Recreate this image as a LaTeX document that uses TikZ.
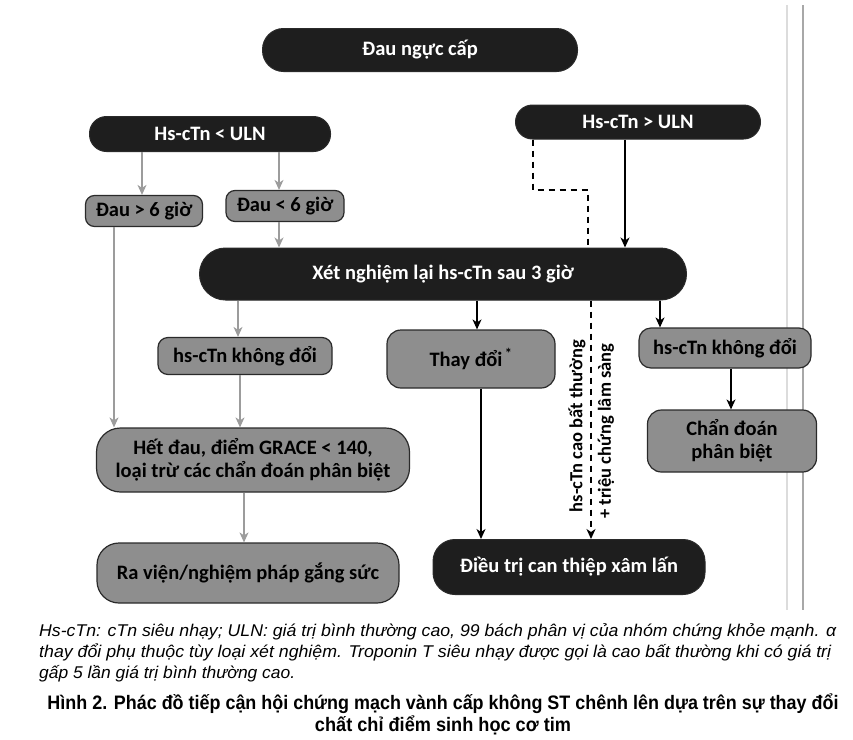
\documentclass[tikz,border=0pt]{standalone}
\usepackage{fontspec}
\usepackage{graphicx}
\setmainfont{Carlito}
\newfontfamily\capfont{Liberation Sans}
\usetikzlibrary{arrows.meta}
\definecolor{darkbox}{HTML}{1E1E1E}
\definecolor{graybox}{HTML}{8E8E8E}
\definecolor{grayline}{HTML}{9C9C9C}
\definecolor{edge}{HTML}{2A2A2A}
\definecolor{pagelineA}{HTML}{DCDCDC}
\definecolor{pagelineB}{HTML}{A8A8A8}
\tikzset{
  dbox/.style={draw=edge, line width=1pt, fill=darkbox, text=white, font=\fontsize{20.5}{24}\selectfont\bfseries, inner sep=0pt, align=center},
  gbox/.style={draw=edge, line width=1.2pt, fill=graybox, text=black, font=\fontsize{20.5}{23.5}\selectfont\bfseries, inner sep=0pt, align=center},
  garrow/.style={draw=grayline, line width=1.3pt, -{Stealth[length=10pt,width=9pt,inset=3pt]}},
  barrow/.style={draw=black, line width=1.3pt, -{Stealth[length=10pt,width=9pt,inset=3pt]}},
  darrow/.style={draw=black, line width=1.3pt, dash pattern=on 6pt off 5pt},
  vlabel/.style={font=\fontsize{18.5}{22}\selectfont\bfseries, rotate=90, inner sep=0pt},
  captext/.style={font=\capfont\fontsize{17}{20}\selectfont\itshape, anchor=base west, inner sep=0pt},
  capbold/.style={font=\capfont\fontsize{19.5}{22}\selectfont\bfseries, anchor=base, inner sep=0pt}
}
\begin{document}
\begin{tikzpicture}[x=1pt,y=-1pt]
\useasboundingbox (0,0) rectangle (853,739);
\fill[white] (0,0) rectangle (853,739);
% page edge lines
\draw[pagelineA, line width=1.5pt] (787,5) -- (787,610);
\draw[pagelineB, line width=2pt] (803,5) -- (803,610);

% nodes
\node[dbox, minimum width=315pt, minimum height=43pt, rounded corners=21pt] (dau) at (420,50) {Đau ngực cấp};
\node[dbox, minimum width=241pt, minimum height=35pt, rounded corners=17pt] (lo) at (210,134) {Hs-cTn < ULN};
\node[dbox, minimum width=245pt, minimum height=34pt, rounded corners=17pt] (hi) at (638,122) {Hs-cTn > ULN};
\node[gbox, minimum width=117pt, minimum height=31pt, rounded corners=9pt] (da) at (144,211) {Đau > 6 giờ};
\node[gbox, minimum width=118pt, minimum height=31pt, rounded corners=9pt] (db) at (285,206) {Đau < 6 giờ};
\node[dbox, minimum width=487pt, minimum height=52pt, rounded corners=26pt] (xn) at (443,274) {Xét nghiệm lại hs-cTn sau 3 giờ};
\node[gbox, minimum width=174pt, minimum height=37pt, rounded corners=10pt] (kl) at (245,356) {hs-cTn không đổi};
\node[gbox, minimum width=168pt, minimum height=58pt, rounded corners=14pt] (td) at (471,359) {Thay đổi\textsuperscript{\,*}};
\node[gbox, minimum width=172pt, minimum height=40pt, rounded corners=12pt] (kr) at (725,348) {hs-cTn không đổi};
\node[gbox, minimum width=169pt, minimum height=62pt, rounded corners=14pt] (cd) at (732,441) {Chẩn đoán\\phân biệt};
\node[gbox, minimum width=313pt, minimum height=64pt, rounded corners=24pt] (hd) at (253,460) {Hết đau, điểm GRACE < 140,\\loại trừ các chẩn đoán phân biệt};
\node[gbox, minimum width=302pt, minimum height=60pt, rounded corners=22pt] (rv) at (248,573) {Ra viện/nghiệm pháp gắng sức};
\node[dbox, minimum width=272pt, minimum height=55pt, rounded corners=22pt] (dt) at (569,567) {Điều trị can thiệp xâm lấn};

% gray arrows
\draw[garrow] (lo.south -| 142,0) -- (da.north -| 142,0);
\draw[garrow] (lo.south -| 279,0) -- (db.north -| 279,0);
\draw[garrow] (db.south -| 279,0) -- (xn.north -| 279,0);
\draw[garrow] (da.south -| 114,0) -- (hd.north -| 114,0);
\draw[garrow] (xn.south -| 238,0) -- (kl.north -| 238,0);
\draw[garrow] (kl.south -| 240,0) -- (hd.north -| 240,0);
\draw[garrow] (hd.south -| 244,0) -- (rv.north -| 244,0);

% black arrows
\draw[barrow] (hi.south -| 625,0) -- (xn.north -| 625,0);
\draw[barrow] (xn.south -| 477,0) -- (td.north -| 477,0);
\draw[barrow] (td.south -| 481,0) -- (dt.north -| 481,0);
\draw[barrow] (xn.south -| 660,0) -- (kr.north -| 660,0);
\draw[barrow] (kr.south -| 731,0) -- (cd.north -| 731,0);

% dashed path
\coordinate (dk) at (588,190);
\draw[darrow] (hi.south -| 533,0) |- (dk) -- (xn.north -| 588,0);
\draw[darrow, -{Stealth[length=10pt,width=9pt,inset=3pt]}] (xn.south -| 591,0) -- (dt.north -| 591,0);
\node[vlabel] (l1) at (577,426) {hs-cTn cao bất thường};
\node[vlabel] (l2) at (606,431) {+ triệu chứng lâm sàng};

% caption
\node[captext] (c1) at (39,636) {\resizebox{797pt}{\height}{Hs-cTn: cTn siêu nhạy; ULN: giá trị bình thường cao, 99 bách phân vị của nhóm chứng khỏe mạnh. α}};
\node[captext] (c2) at (39,657) {\resizebox{792pt}{\height}{thay đổi phụ thuộc tùy loại xét nghiệm. Troponin T siêu nhạy được gọi là cao bất thường khi có giá trị}};
\node[captext] (c3) at (39,678) {\resizebox{256pt}{\height}{gấp 5 lần giá trị bình thường cao.}};
\node[capbold] (c4) at (443,709) {\resizebox{791pt}{\height}{Hình 2. Phác đồ tiếp cận hội chứng mạch vành cấp không ST chênh lên dựa trên sự thay đổi}};
\node[capbold] (c5) at (443,731) {\resizebox{256pt}{\height}{chất chỉ điểm sinh học cơ tim}};
\end{tikzpicture}
\end{document}
